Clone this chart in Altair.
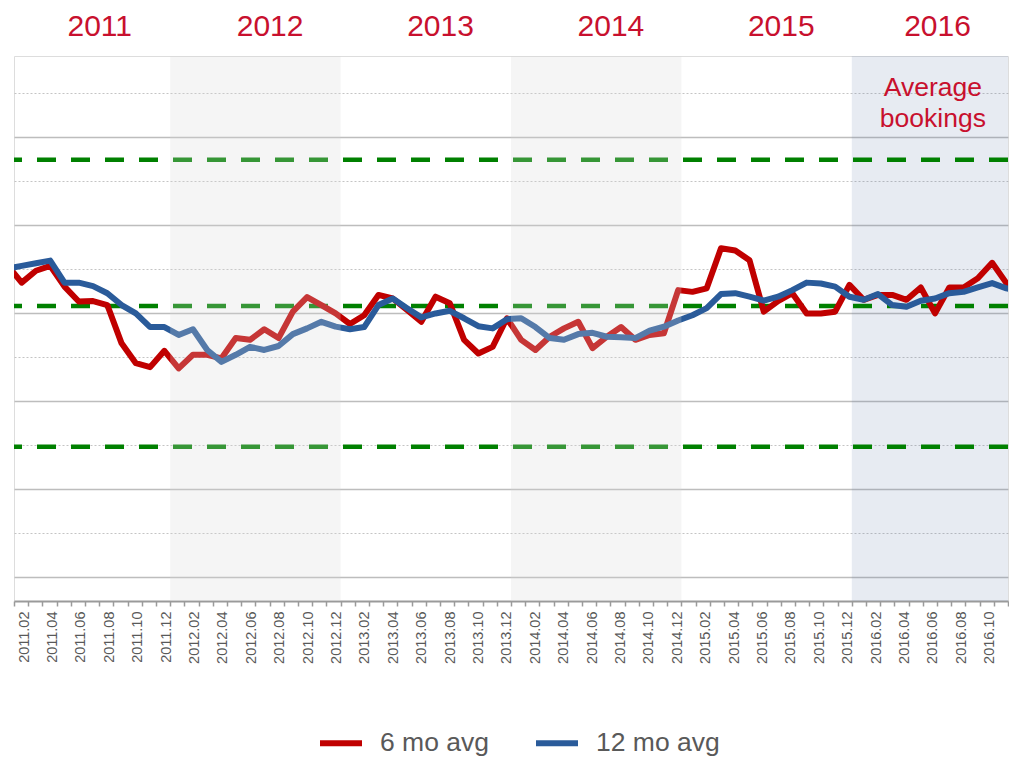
import json
import altair as alt
import pandas as pd

# ---------------- data ----------------
months = [f"{y}.{m:02d}" for y in range(2011, 2017) for m in range(1, 13)]  # 2011.01 .. 2016.12

six_mo = [
    70.9, 66.9, 69.6, 70.7, 66.0, 62.6, 62.7, 61.8, 53.1, 48.6, 47.7, 51.4,   # 2011
    47.4, 50.5, 50.5, 49.7, 54.3, 53.9, 56.3, 54.3, 60.3, 63.6, 61.8, 59.9,   # 2012
    57.5, 59.5, 64.1, 63.3, 60.7, 58.0, 63.7, 62.2, 53.9, 50.8, 52.3, 58.8,   # 2013
    53.9, 51.6, 54.6, 56.5, 58.0, 52.0, 54.6, 56.8, 53.9, 55.0, 55.4, 65.2,   # 2014
    64.8, 65.6, 74.7, 74.2, 72.0, 60.3, 62.7, 64.5, 59.9, 59.9, 60.3, 66.4,   # 2015
    63.0, 64.1, 64.1, 63.0, 65.8, 59.9, 65.8, 65.8, 67.9, 71.4, 66.8, 64.0,   # 2016
]
twelve_mo = [
    70.1, 70.7, 71.3, 71.9, 66.9, 66.9, 66.1, 64.5, 61.8, 59.9, 56.8, 56.8,   # 2011
    55.0, 56.3, 51.6, 48.9, 50.5, 52.3, 51.6, 52.5, 55.2, 56.5, 58.0, 56.9,   # 2012
    56.3, 56.8, 61.8, 63.3, 61.1, 59.0, 59.9, 60.5, 58.8, 57.0, 56.5, 58.6,   # 2013
    58.8, 56.8, 54.3, 53.9, 55.2, 55.5, 54.6, 54.5, 54.3, 56.0, 56.9, 58.3,   # 2014
    59.5, 61.1, 64.3, 64.5, 63.7, 62.8, 63.7, 65.2, 66.9, 66.7, 66.0, 63.7,   # 2015
    63.0, 64.3, 61.8, 61.4, 62.8, 63.3, 64.5, 64.8, 65.8, 66.8, 65.6, 65.0,   # 2016
]

# control lines: upper limit, average, lower limit
limits = [94.8, 61.6, 29.6]

# categories shown on the axis: 2011.02 .. 2016.11
axis_months = months[1:71]

years = ["2011", "2012", "2013", "2014", "2015", "2016"]
year_label_at = [6, 18, 30, 42, 54, 65]          # category position under each year label
shaded_years = ["2012", "2014", "2016"]
shade_kind = ["grey", "grey", "blue"]

annotation = "Average\nbookings"
annotation_level = 111.1

# ---------------- styling ----------------
RED = "#C00000"
BLUE = "#2A5B9A"
TEXT_RED = "#C8102E"
GREEN = "#008000"
GREY_TXT = "#595959"
FONT = "Liberation Sans"

W, H = 994, 545

# ---------------- tables ----------------
line_idx = list(range(-1, 71))
df_six = pd.DataFrame({"idx": line_idx, "value": six_mo, "series": "6 mo avg"})
df_twelve = pd.DataFrame({"idx": line_idx, "value": twelve_mo, "series": "12 mo avg"})

starts = [axis_months.index(f"{y}.01") for y in shaded_years]
ends = [axis_months.index(f"{int(y) + 1}.01") if f"{int(y) + 1}.01" in axis_months else len(axis_months)
        for y in shaded_years]
df_shade = pd.DataFrame({"year": shaded_years, "start": starts, "end": ends, "kind": shade_kind})
df_limits = pd.DataFrame({"value": limits})
df_note = pd.DataFrame({"text": [annotation],
                        "xpos": [(starts[-1] + ends[-1]) / 2],
                        "ypos": [annotation_level]})

# ---------------- scales / axes ----------------
x_cat = alt.Scale(domain=[0, len(axis_months)], nice=False, zero=False)
x_line = alt.Scale(domain=[-0.5385, 69.112], nice=False, zero=False)
y_scale = alt.Scale(domain=[-5.45, 118.4], nice=False, zero=False)

y_axis = alt.Axis(
    values=list(range(0, 120, 10)), labels=False, ticks=False, domain=False, title=None,
    grid=True,
    gridColor={"condition": {"test": "datum.value % 20 === 0", "value": "#bdbdbd"}, "value": "#c4c4c4"},
    gridDash={"condition": {"test": "datum.value % 20 === 0", "value": []}, "value": [2, 2]},
    gridWidth={"condition": {"test": "datum.value % 20 === 0", "value": 1.6}, "value": 1},
)

label_expr = (f"datum.value < {len(axis_months)} && datum.value % 2 === 0 ? "
              f"{json.dumps(axis_months)}[datum.value] : ''")
x_axis_bottom = alt.Axis(
    orient="bottom", values=list(range(0, len(axis_months) + 1)), labelExpr=label_expr,
    labelAngle=270, labelOffset=10, labelPadding=5, labelFontSize=14.5, labelColor=GREY_TXT,
    labelFont=FONT, labelOverlap=False, labelFlush=False, labelBound=False,
    tickSize=5, tickColor="#9a9a9a", tickWidth=1.5,
    domainColor="#9a9a9a", domainWidth=2, grid=False, title=None,
)
year_expr = f"{json.dumps(years)}[indexof({json.dumps(year_label_at)}, datum.value)]"
x_axis_top = alt.Axis(
    orient="top", values=year_label_at, labelExpr=year_expr, labelAngle=0,
    labelFontSize=30, labelColor=TEXT_RED, labelFont=FONT, labelPadding=20.5,
    labelBaseline="alphabetic", labelOverlap=False, labelFlush=False, labelBound=False,
    ticks=False, domain=False, grid=False, title=None,
)

# ---------------- layers ----------------
blue_band = alt.Chart(df_shade).transform_filter("datum.kind === 'blue'").mark_rect(
    color="#5f7aa8", opacity=0.15
).encode(x=alt.X("start:Q", scale=x_cat, axis=x_axis_bottom), x2="end:Q")

limit_lines = alt.Chart(df_limits).mark_rule(
    color=GREEN, strokeWidth=4.5, strokeDash=[19, 15]
).encode(y=alt.Y("value:Q", scale=y_scale, axis=y_axis))

color_scale = alt.Scale(domain=["6 mo avg", "12 mo avg"], range=[RED, BLUE])
legend = alt.Legend(
    title=None, orient="none", legendX=303, legendY=663, direction="horizontal",
    symbolType="stroke", symbolSize=1764, symbolStrokeWidth=6, symbolOpacity=1,
    labelFontSize=26.5, labelColor=GREY_TXT, labelFont=FONT, labelOffset=15,
    columnPadding=34, labelLimit=300,
)

red_line = alt.Chart(df_six).mark_line(
    strokeWidth=6, strokeJoin="round", clip=True
).encode(
    x=alt.X("idx:Q", scale=x_line, axis=None),
    y=alt.Y("value:Q", scale=y_scale, axis=y_axis),
    color=alt.Color("series:N", scale=color_scale, legend=legend),
)
blue_line = alt.Chart(df_twelve).mark_line(
    strokeWidth=6, strokeJoin="round", clip=True
).encode(
    x=alt.X("idx:Q", scale=x_line, axis=None),
    y=alt.Y("value:Q", scale=y_scale, axis=y_axis),
    color=alt.Color("series:N", scale=color_scale, legend=legend),
)

grey_bands = alt.Chart(df_shade).transform_filter("datum.kind === 'grey'").mark_rect(
    color="#d6d6d6", opacity=0.25
).encode(x=alt.X("start:Q", scale=x_cat, axis=x_axis_top), x2="end:Q")

note = alt.Chart(df_note).mark_text(
    color=TEXT_RED, fontSize=26.5, font=FONT, align="center", baseline="middle",
    lineBreak="\n", lineHeight=31, dx=3
).encode(
    x=alt.X("xpos:Q", scale=x_cat, axis=None),
    y=alt.Y("ypos:Q", scale=y_scale, axis=y_axis),
    text="text:N",
)

chart = alt.layer(
    blue_band, limit_lines, red_line, blue_line, grey_bands, note
).resolve_scale(x="independent").properties(
    width=W, height=H,
    padding={"left": 6, "top": 48, "right": 1, "bottom": 157},
    autosize=alt.AutoSizeParams(type="none"),
).configure_view(
    stroke="#8c8c8c", strokeWidth=1.5
).configure(font=FONT, background="white")

chart.save("out.html", embed_options={"renderer": "svg", "actions": False})
